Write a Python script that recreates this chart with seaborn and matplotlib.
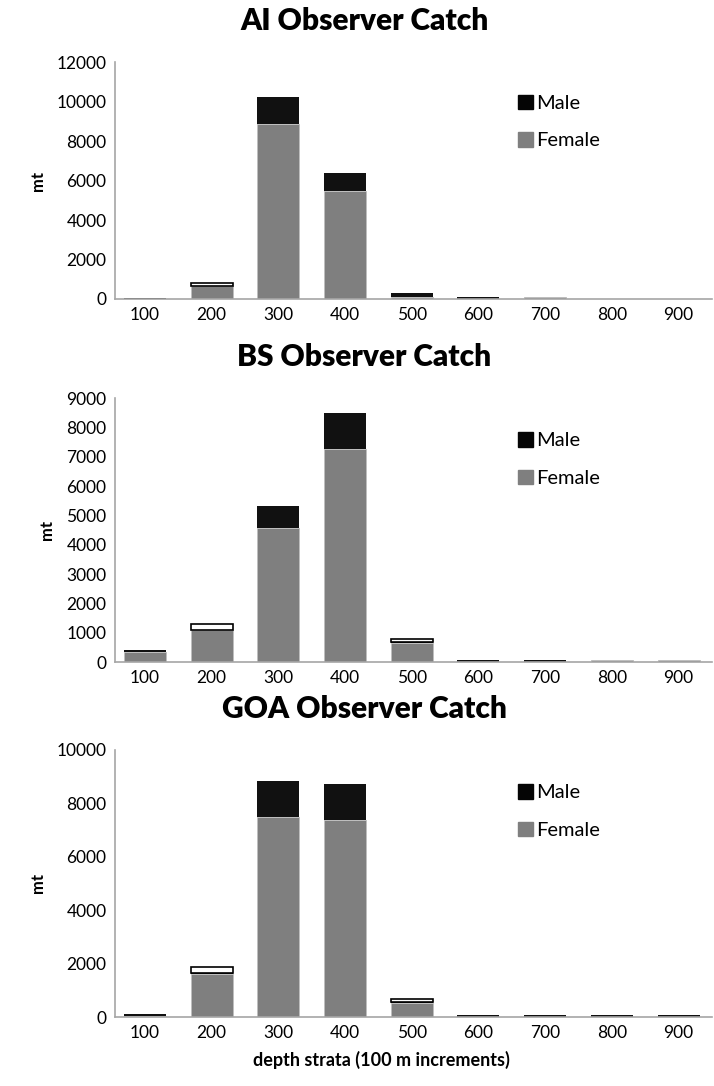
import numpy as np
import pandas as pd
import matplotlib
matplotlib.use("Agg")
import matplotlib.pyplot as plt
import seaborn as sns
from matplotlib.patches import Patch

depth = ["100", "200", "300", "400", "500", "600", "700", "800", "900"]

# values in mt
ai_female = [20, 650, 8850, 5470, 120, 0, 80, 0, 0]
ai_male = [40, 20, 1370, 910, 170, 90, 0, 0, 0]
ai_unknown = [0, 130, 0, 0, 0, 0, 0, 0, 0]

bs_female = [350, 1080, 4580, 7280, 660, 0, 0, 60, 60]
bs_male = [60, 20, 740, 1200, 20, 60, 60, 0, 0]
bs_unknown = [0, 200, 0, 0, 100, 0, 0, 0, 0]

goa_female = [40, 1600, 7480, 7380, 520, 0, 0, 0, 0]
goa_male = [60, 30, 1360, 1340, 30, 60, 60, 60, 60]
goa_unknown = [0, 250, 0, 0, 130, 0, 0, 0, 0]

panels = [
    ("AI Observer Catch", ai_female, ai_male, ai_unknown, 12000, 2000),
    ("BS Observer Catch", bs_female, bs_male, bs_unknown, 9000, 1000),
    ("GOA Observer Catch", goa_female, goa_male, goa_unknown, 10000, 2000),
]

sns.set_theme(style="white")
plt.rcParams["font.family"] = ["Lato", "DejaVu Sans"]
plt.rcParams["text.color"] = "black"
plt.rcParams["axes.labelcolor"] = "black"
plt.rcParams["xtick.color"] = "black"
plt.rcParams["ytick.color"] = "black"

fig = plt.figure(figsize=(7.14, 10.86), dpi=100)
boxes = [[0.161, 0.7247, 0.836, 0.218],
         [0.161, 0.3904, 0.836, 0.243],
         [0.161, 0.0635, 0.836, 0.246]]

for box, (title, female, male, unknown, ymax, step) in zip(boxes, panels):
    ax = fig.add_axes(box)
    female = np.array(female)
    male = np.array(male)
    unknown = np.array(unknown)
    sns.barplot(x=depth, y=female, order=depth, color="#7f7f7f", saturation=1,
                width=0.63, edgecolor="#bfbfbf", linewidth=0.6, ax=ax)
    sns.barplot(x=depth, y=male, order=depth, color="#111111", saturation=1,
                width=0.63, bottom=female, linewidth=0, ax=ax)
    sns.barplot(x=depth, y=unknown, order=depth, color="white", saturation=1,
                width=0.63, bottom=female + male, edgecolor="black",
                linewidth=np.where(unknown > 0, 1.2, 0).tolist(), ax=ax)
    ax.set_ylim(0, ymax)
    ax.set_yticks(np.arange(0, ymax + 1, step))
    ax.set_xlim(-0.45, 8.5)
    ax.tick_params(axis="both", labelsize=12.5, length=0, pad=6)
    ax.set_xlabel("")
    ax.set_ylabel("mt", fontsize=12, fontweight="bold", labelpad=8)
    ax.set_title(title, fontsize=21.5, fontweight="heavy", pad=23, x=0.418)
    for s in ["top", "right"]:
        ax.spines[s].set_visible(False)
    for s in ["left", "bottom"]:
        ax.spines[s].set_color("#a6a6a6")
        ax.spines[s].set_linewidth(1.2)
    handles = [Patch(color="#050505", label="Male"),
               Patch(color="#7f7f7f", label="Female")]
    ax.legend(handles=handles, loc="upper left", bbox_to_anchor=(0.645, 0.94),
              frameon=False, fontsize=14.5, handlelength=0.75, handleheight=0.75,
              handletextpad=0.15, labelspacing=1.0)

ax.set_xlabel("depth strata (100 m increments)", fontsize=13,
              fontweight="bold", labelpad=8)
ax.xaxis.set_label_coords(0.446, -0.125)

fig.savefig("out.png", dpi=100)
